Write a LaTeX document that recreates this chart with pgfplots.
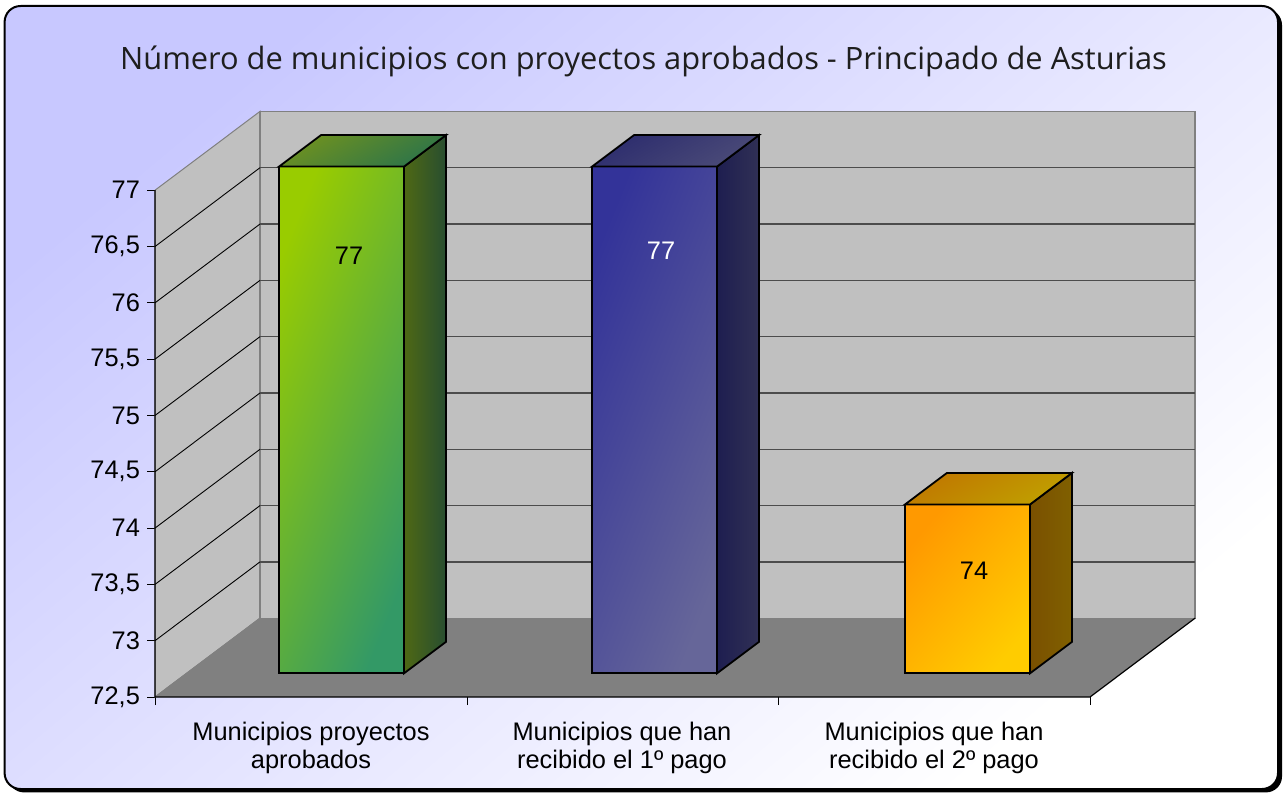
\documentclass[border=0pt]{standalone}
\usepackage{fontspec}
\setmainfont{Liberation Sans}
\newfontfamily\titlefont{Open Sans}
\usepackage{pgfplots}
\pgfplotsset{compat=1.18}
\definecolor{wall}{HTML}{C0C0C0}
\definecolor{floorc}{HTML}{808080}
\begin{document}
\begin{tikzpicture}[x=1pt,y=1pt]
\useasboundingbox (0,0) rectangle (642,397);
% background frame
\fill[black, rounded corners=8pt] (4,0.8) rectangle (641,392.5);
\shade[rounded corners=8pt, top color={rgb,255:red,200;green,200;blue,255}, bottom color=white, shading angle=40, draw=black, line width=1pt] (2.3,2.5) rectangle (639,394);
\node[font=\titlefont\fontsize{15.4}{18}\selectfont, text={rgb,255:red,30;green,30;blue,30}] at (321.75,366.5) {Número de municipios con proyectos aprobados - Principado de Asturias};
\begin{axis}[
  at={(77.5pt,48.5pt)}, anchor=south west,
  scale only axis, width=522.5pt, height=292.8pt,
  xmin=155, xmax=1200, ymin=72.5, ymax=77.7,
  axis line style={draw=none},
  clip=false,
  tick align=outside, major tick length=4pt,
  tick style={black, line width=0.5pt},
  ytick pos=left, xtick pos=bottom,
  ytick={72.5,73,73.5,74,74.5,75,75.5,76,76.5,77},
  yticklabel style={font=\fontsize{12.7}{14}\selectfont, /pgf/number format/use comma, /pgf/number format/assume math mode=true},
  xtick={155,467,778,1090}, xticklabels={},
  extra x ticks={311,622,934},
  extra x tick labels={Municipios proyectos\\aprobados, Municipios que han\\recibido el 1º pago, Municipios que han\\recibido el 2º pago},
  extra x tick style={major tick length=0pt, xticklabel style={align=center, font=\fontsize{12.7}{14}\selectfont, yshift=-9pt}},
]
% walls and floor
\addplot[fill=wall, draw=floorc, line width=0.5pt] coordinates {(155,72.5) (260,73.2) (260,77.7) (155,77)} -- cycle;
\addplot[fill=wall, draw=floorc, line width=0.6pt] coordinates {(260,73.2) (1195,73.2) (1195,77.7) (260,77.7)} -- cycle;
\addplot[fill=floorc, draw=none] coordinates {(155,72.5) (1090,72.5) (1195,73.2) (260,73.2)} -- cycle;
\addplot[draw=floorc, line width=0.5pt] coordinates {(155,72.5) (260,73.2)};
% grid lines: left wall
\addplot[black, line width=0.45pt] coordinates {(155,73) (260,73.7)};
\addplot[black, line width=0.45pt] coordinates {(155,73.5) (260,74.2)};
\addplot[black, line width=0.45pt] coordinates {(155,74) (260,74.7)};
\addplot[black, line width=0.45pt] coordinates {(155,74.5) (260,75.2)};
\addplot[black, line width=0.45pt] coordinates {(155,75) (260,75.7)};
\addplot[black, line width=0.45pt] coordinates {(155,75.5) (260,76.2)};
\addplot[black, line width=0.45pt] coordinates {(155,76) (260,76.7)};
\addplot[black, line width=0.45pt] coordinates {(155,76.5) (260,77.2)};
% grid lines: back wall
\addplot[black!70, line width=0.7pt] coordinates {(260,73.7) (1195,73.7)};
\addplot[black!70, line width=0.7pt] coordinates {(260,74.2) (1195,74.2)};
\addplot[black!70, line width=0.7pt] coordinates {(260,74.7) (1195,74.7)};
\addplot[black!70, line width=0.7pt] coordinates {(260,75.2) (1195,75.2)};
\addplot[black!70, line width=0.7pt] coordinates {(260,75.7) (1195,75.7)};
\addplot[black!70, line width=0.7pt] coordinates {(260,76.2) (1195,76.2)};
\addplot[black!70, line width=0.7pt] coordinates {(260,76.7) (1195,76.7)};
\addplot[black!70, line width=0.7pt] coordinates {(260,77.2) (1195,77.2)};
% front edges
\addplot[black, line width=0.6pt] coordinates {(155,77) (155,72.5) (1090,72.5) (1195,73.2)};
% bar 1 (77)
\addplot[draw=black, line width=0.9pt, top color={rgb,255:red,153;green,204;blue,0}, bottom color={rgb,255:red,51;green,153;blue,102}, shading angle=68] coordinates {(279,72.71) (404,72.71) (404,77.21) (279,77.21)} -- cycle;
\addplot[draw=black, line width=0.9pt, left color={rgb,255:red,78;green,104;blue,20}, right color={rgb,255:red,40;green,78;blue,48}] coordinates {(404,72.71) (446,72.99) (446,77.49) (404,77.21)} -- cycle;
\addplot[draw=black, line width=0.9pt, top color={rgb,255:red,110;green,145;blue,32}, bottom color={rgb,255:red,44;green,116;blue,74}, shading angle=30] coordinates {(279,77.21) (404,77.21) (446,77.49) (321,77.49)} -- cycle;
% bar 2 (77)
\addplot[draw=black, line width=0.9pt, top color={rgb,255:red,51;green,51;blue,153}, bottom color={rgb,255:red,102;green,102;blue,153}, shading angle=68] coordinates {(592,72.71) (717,72.71) (717,77.21) (592,77.21)} -- cycle;
\addplot[draw=black, line width=0.9pt, left color={rgb,255:red,30;green,30;blue,80}, right color={rgb,255:red,48;green,48;blue,85}] coordinates {(717,72.71) (759,72.99) (759,77.49) (717,77.21)} -- cycle;
\addplot[draw=black, line width=0.9pt, top color={rgb,255:red,45;green,45;blue,110}, bottom color={rgb,255:red,75;green,75;blue,120}, shading angle=30] coordinates {(592,77.21) (717,77.21) (759,77.49) (634,77.49)} -- cycle;
% bar 3 (74)
\addplot[draw=black, line width=0.9pt, top color={rgb,255:red,255;green,153;blue,0}, bottom color={rgb,255:red,255;green,204;blue,0}, shading angle=50] coordinates {(905,72.71) (1030,72.71) (1030,74.21) (905,74.21)} -- cycle;
\addplot[draw=black, line width=0.9pt, left color={rgb,255:red,122;green,80;blue,0}, right color={rgb,255:red,128;green,96;blue,0}] coordinates {(1030,72.71) (1072,72.99) (1072,74.49) (1030,74.21)} -- cycle;
\addplot[draw=black, line width=0.9pt, top color={rgb,255:red,192;green,120;blue,0}, bottom color={rgb,255:red,192;green,160;blue,0}, shading angle=30] coordinates {(905,74.21) (1030,74.21) (1072,74.49) (947,74.49)} -- cycle;
% value labels
\node[font=\fontsize{12.7}{14}\selectfont] at (axis cs:349,76.42) {77};
\node[font=\fontsize{12.7}{14}\selectfont, text=white] at (axis cs:661,76.46) {77};
\node[font=\fontsize{12.7}{14}\selectfont] at (axis cs:974,73.62) {74};
\end{axis}
\end{tikzpicture}
\end{document}
